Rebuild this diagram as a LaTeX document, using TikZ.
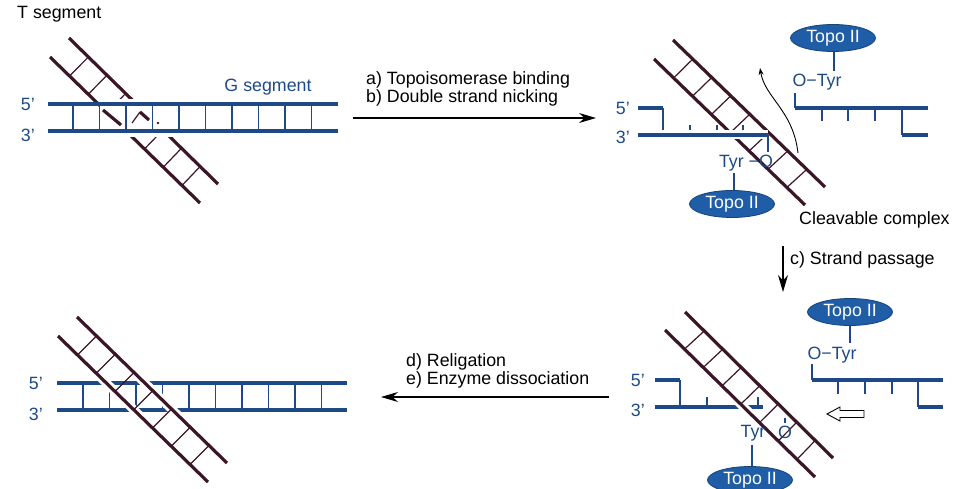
\documentclass[tikz,border=0pt]{standalone}
\usepackage{fontspec}
\setmainfont{Liberation Sans}
\usetikzlibrary{arrows.meta, calc, shapes.geometric}
\definecolor{gblue}{HTML}{1D4A86}
\definecolor{tbrown}{HTML}{3A1626}
\definecolor{topofill}{HTML}{1F5DA6}
\definecolor{topoedge}{HTML}{17437D}
\newcommand{\labfont}{\fontsize{17.8}{14.5}\selectfont}
\tikzset{>={Stealth[length=17pt,width=10pt]}, % bold arrow heads
gstrand/.style={gblue, line width=4pt}, % backbone of the G segment
grung/.style={gblue, line width=1.4pt}, % base pairs and short links
tstrand/.style={tbrown, line width=3.2pt}, % backbone of the T segment
trung/.style={tbrown, line width=1.2pt},
crossover/.style={preaction={draw=white, line width=9pt}}, % leaves a gap in what lies below
lbl/.style={inner sep=0pt, text=gblue, font=\labfont},
txt/.style={inner sep=0pt, font=\labfont, align=left},
topo/.style={ellipse, draw=topoedge, line width=0.8pt, fill=topofill, text=white,
  minimum width=85pt, minimum height=27pt, inner sep=0pt, font=\labfont},
}

\begin{document}
\begin{tikzpicture}[x=1pt, y=-1pt]
  \useasboundingbox (0,0) rectangle (961,489);

  % --- T segment lying over the G segment
  \node[txt, anchor=west] (tseg) at (17,14) {T segment};
  \coordinate (t1a) at (69,38);  \coordinate (t1b) at (218,184);
  \coordinate (t1c) at (50,57);  \coordinate (t1d) at (200,203);
  \draw[tstrand] (t1a) -- (t1b);
  \draw[tstrand] (t1c) -- (t1d);
  \foreach \t in {0.13,0.255,0.38,0.505,0.63,0.755,0.88}
    \draw[trung] ($(t1a)!\t!(t1b)$) -- ($(t1c)!\t!(t1d)$);
  \fill[white] (100,99) rectangle (182,137);
  \node[lbl, anchor=east] (p1five) at (35,104) {5'};
  \node[lbl, anchor=east] (p1three) at (35,135) {3'};
  \coordinate (g1a) at (48,104);  \coordinate (g1b) at (338,104);
  \coordinate (g1c) at (48,131);  \coordinate (g1d) at (338,131);
  \foreach \x in {73,99.5,...,312}
    \draw[grung] (\x,104) -- (\x,131);
  \draw[gstrand] (g1a) -- (g1b);
  \draw[gstrand] (g1c) -- (g1d);
  \draw[tstrand] (103,110) -- (121,125);
  \draw[tstrand] (140,112) -- (149,120);
  \draw[trung] (140,112) -- (132,123);
  \fill[tbrown] (158,123) circle (1.3);
  \node[lbl] (gseg) at (268,87) {G segment};

  % --- a) and b)
  \node[txt, anchor=west] (stepab) at (366,89) {a) Topoisomerase binding\\b) Double strand nicking};
  \coordinate (ab0) at (353,118);  \coordinate (ab1) at (596,118);
  \draw[->, line width=1.1pt] (ab0) -- (ab1);

  % --- cleavable complex
  \coordinate (t2a) at (673,40);  \coordinate (t2b) at (825,187);
  \coordinate (t2c) at (654,59);  \coordinate (t2d) at (805,205);
  \draw[tstrand] (t2a) -- (t2b);
  \draw[tstrand] (t2c) -- (t2d);
  \foreach \t in {0.13,0.255,0.38,0.505,0.63,0.755,0.88}
    \draw[trung] ($(t2a)!\t!(t2b)$) -- ($(t2c)!\t!(t2d)$);
  \node[lbl, anchor=east] (p2five) at (630,108) {5'};
  \node[lbl, anchor=east] (p2three) at (630,137) {3'};
  \draw[gstrand] (638,108) -- (663,108);
  \draw[grung] (663,108) -- (663,135);
  \foreach \x in {690,717,743}
    \draw[grung] (\x,135) -- (\x,125);
  \draw[gstrand, crossover] (638,135) -- (768,135);
  \node[lbl] (tyr2) at (746,163) {Tyr −O};
  \draw[grung] (768,135) -- (768,152);
  \node[topo] (topo2a) at (732,204) {Topo II};
  \draw[grung] (topo2a.north -| 734,0) -- (734,173);
  % released half of the G segment
  \node[topo] (topo2b) at (833,38) {Topo II};
  \node[lbl] (otyr2) at (817,82) {O−Tyr};
  \draw[grung] (topo2b.south -| 834,0) -- (834,71);
  \draw[grung] (795,93) -- (795,108);
  \draw[gstrand] (795,108) -- (928,108);
  \foreach \x in {822,848,875}
    \draw[grung] (\x,108) -- (\x,121);
  \draw[grung] (902,108) -- (902,135);
  \draw[gstrand] (902,135) -- (928,135);
  \draw[line width=0.9pt, -{Stealth[length=7pt,width=5pt]}] (798,153) .. controls (793,110) and (765,98) .. (760,68);
  \node[txt, anchor=west] (cleav) at (799,220) {Cleavable complex};

  % --- c)
  \coordinate (c0) at (783,246);  \coordinate (c1) at (783,292);
  \draw[->, line width=1.1pt] (c0) -- (c1);
  \node[txt, anchor=west] (stepc) at (790,260) {c) Strand passage};

  % --- after strand passage
  \node[lbl, anchor=east] (p3five) at (645,380) {5'};
  \node[lbl, anchor=east] (p3three) at (645,410) {3'};
  \draw[gstrand] (655,380) -- (680,380);
  \draw[grung] (680,380) -- (680,407);
  \draw[grung] (707,407) -- (707,397);
  \draw[grung] (758,407) -- (758,397);
  \draw[gstrand] (655,407) -- (763,407);
  \coordinate (t3a) at (685,312);  \coordinate (t3b) at (833,458);
  \coordinate (t3c) at (665,330);  \coordinate (t3d) at (815,477);
  \draw[tstrand, crossover] (t3a) -- (t3b);
  \draw[tstrand, crossover] (t3c) -- (t3d);
  \foreach \t in {0.13,0.255,0.38,0.505,0.63,0.755,0.88}
    \draw[trung] ($(t3a)!\t!(t3b)$) -- ($(t3c)!\t!(t3d)$);
  \node[lbl] (tyr3) at (753,433) {Tyr};
  \node[lbl] (o3) at (785,432) {O};
  \draw[grung] (785,418) -- (785,423);
  \node[topo] (topo3a) at (750,480) {Topo II};
  \draw[grung] (topo3a.north -| 752,0) -- (752,445);
  \node[topo] (topo3b) at (850,312) {Topo II};
  \node[lbl] (otyr3) at (832,355) {O−Tyr};
  \draw[grung] (topo3b.south -| 850,0) -- (850,343);
  \draw[grung] (812,364) -- (812,380);
  \draw[gstrand] (812,380) -- (943,380);
  \foreach \x in {838,865,892}
    \draw[grung] (\x,380) -- (\x,394);
  \draw[grung] (918,380) -- (918,407);
  \draw[gstrand] (918,407) -- (943,407);
  % hollow arrow: the halves close up again
  \coordinate (push) at (827,414);
  \draw[line width=0.9pt, fill=white, line join=miter] (push) -- ++(13,-7) -- ++(0,3.5) -- ++(24,0)
    -- ++(0,7) -- ++(-24,0) -- ++(0,3.5) -- cycle;

  % --- d) and e)
  \node[txt, anchor=west] (stepde) at (406,371) {d) Religation\\e) Enzyme dissociation};
  \coordinate (de0) at (609,397);  \coordinate (de1) at (381,397);
  \draw[->, line width=1.1pt] (de0) -- (de1);

  % --- T segment passed through the resealed G segment
  \node[lbl, anchor=east] (p4five) at (43,383) {5'};
  \node[lbl, anchor=east] (p4three) at (43,414) {3'};
  \coordinate (g4a) at (57,383);  \coordinate (g4b) at (347,383);
  \coordinate (g4c) at (57,410);  \coordinate (g4d) at (347,410);
  \foreach \x in {83,109.5,...,322}
    \draw[grung] (\x,383) -- (\x,410);
  \draw[gstrand] (g4a) -- (g4b);
  \draw[gstrand] (g4c) -- (g4d);
  \coordinate (t4a) at (77,317);  \coordinate (t4b) at (227,463);
  \coordinate (t4c) at (58,336);  \coordinate (t4d) at (208,482);
  \draw[tstrand, crossover] (t4a) -- (t4b);
  \draw[tstrand, crossover] (t4c) -- (t4d);
  \foreach \t in {0.13,0.255,0.38,0.505,0.63,0.755,0.88}
    \draw[trung] ($(t4a)!\t!(t4b)$) -- ($(t4c)!\t!(t4d)$);
\end{tikzpicture}
\end{document}
